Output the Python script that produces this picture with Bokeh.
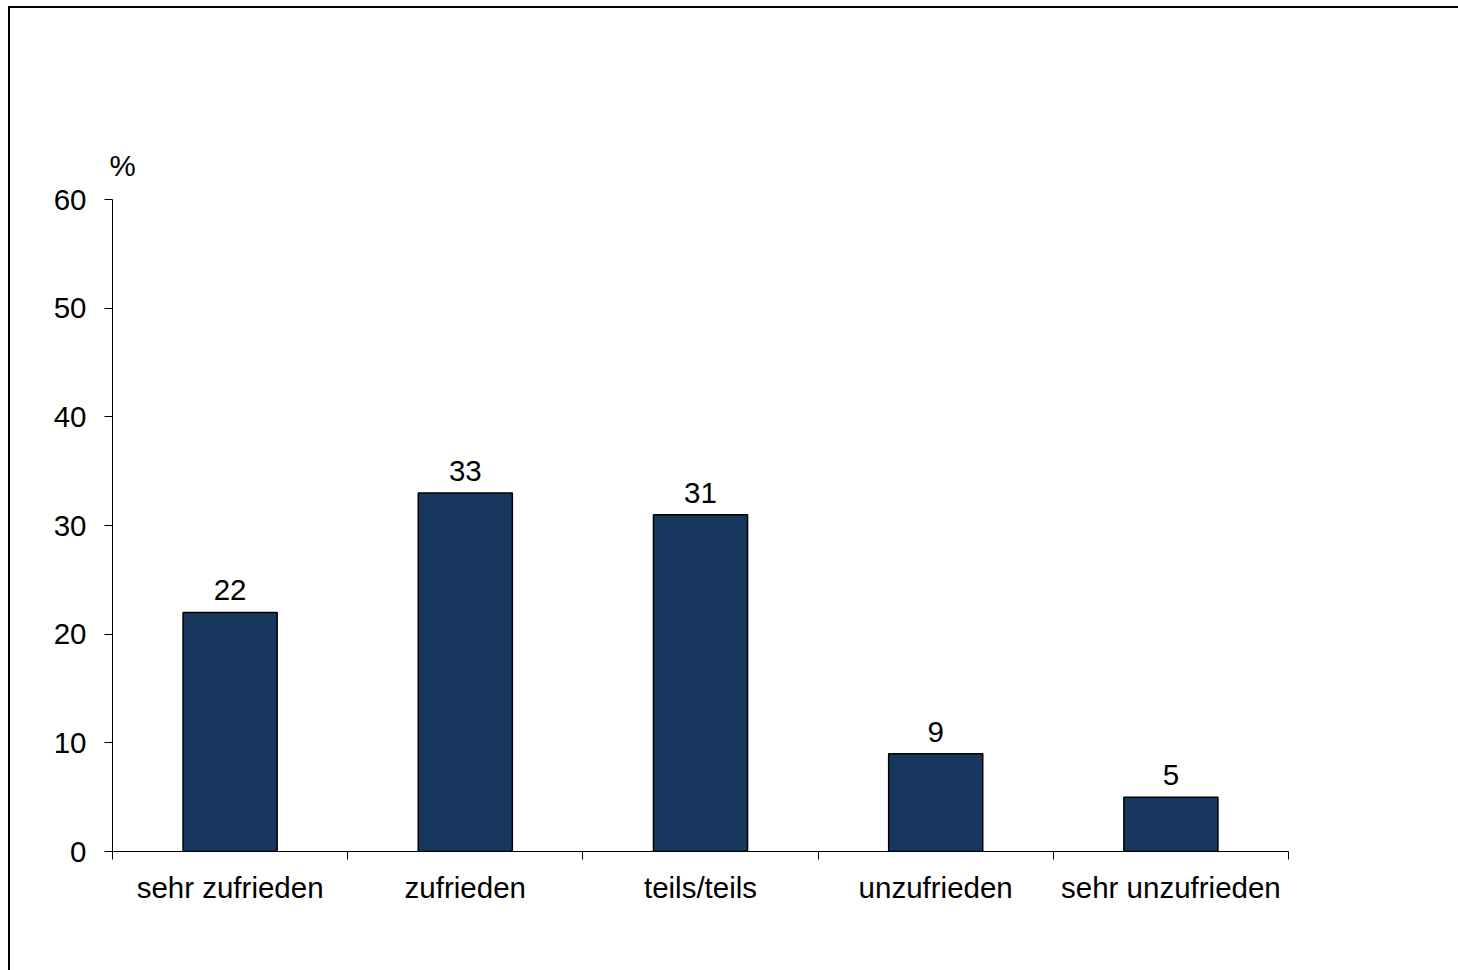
from bokeh.plotting import figure
from bokeh.models import ColumnDataSource, FixedTicker, Range1d
from bokeh.core.properties import value
from bokeh.embed import file_html
from bokeh.resources import INLINE

categories = ["sehr zufrieden", "zufrieden", "teils/teils", "unzufrieden", "sehr unzufrieden"]
values = [22, 33, 31, 9, 5]
y_ticks = [0, 10, 20, 30, 40, 50, 60]
unit_label = "%"

FONT = "Liberation Sans"
FS = "29.5px"

xs = [i + 0.5 for i in range(len(categories))]
src = ColumnDataSource(dict(x=xs, top=values, label=[str(v) for v in values]))

p = figure(width=1450, height=964, output_backend="svg", toolbar_location=None,
           x_range=Range1d(0, len(categories)), y_range=Range1d(0, 60),
           min_border_left=102, min_border_right=172, min_border_top=191, min_border_bottom=121,
           title=unit_label)
p.margin = (6, 0, 0, 8)
p.styles = {"border-top": "2px solid #000", "border-left": "2px solid #000"}
p.outline_line_color = None
p.xgrid.grid_line_color = None
p.ygrid.grid_line_color = None
p.background_fill_color = "white"
p.border_fill_color = "white"

p.title.text_font = FONT
p.title.text_font_size = FS
p.title.text_font_style = "normal"
p.title.text_color = "black"
p.title.align = "left"
p.title.offset = -3
p.title.standoff = 36

p.vbar(x="x", top="top", width=0.4, bottom=0, source=src,
       fill_color="#17375E", line_color="black", line_width=1.5)

p.text(x="x", y="top", text="label", source=src, text_align="center",
       text_baseline="alphabetic", y_offset=-22,
       text_font=value(FONT), text_font_size=FS, text_color="black")

# y axis
ya = p.yaxis[0]
ya.ticker = FixedTicker(ticks=y_ticks)
ya.minor_tick_line_color = None
ya.major_tick_in = 0
ya.major_tick_out = 8
ya.major_label_standoff = 18
ya.axis_line_color = "black"
ya.major_tick_line_color = "black"
ya.major_label_text_font = FONT
ya.major_label_text_font_size = FS
ya.major_label_text_color = "black"

# x axis: ticks at category boundaries, labels at centers
xa = p.xaxis[0]
xa.ticker = FixedTicker(ticks=xs, minor_ticks=list(range(len(categories) + 1)))
xa.major_label_overrides = {x: c for x, c in zip(xs, categories)}
xa.major_tick_in = 0
xa.major_tick_out = 0
xa.minor_tick_in = 0
xa.minor_tick_out = 8
xa.minor_tick_line_color = "black"
xa.major_label_standoff = 11
xa.axis_line_color = "black"
xa.major_label_text_font = FONT
xa.major_label_text_font_size = FS
xa.major_label_text_color = "black"

open("out.html", "w").write(file_html(p, INLINE))
